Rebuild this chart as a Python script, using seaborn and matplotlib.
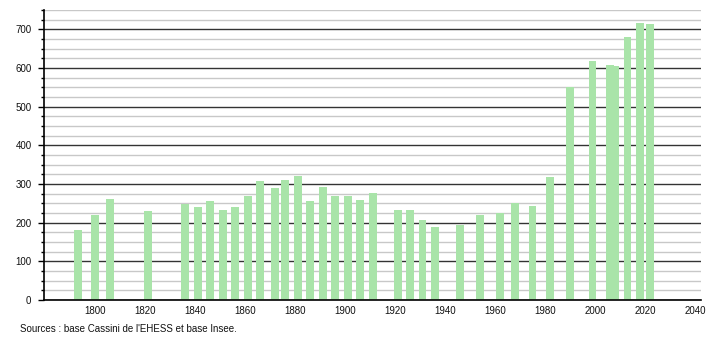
import matplotlib
matplotlib.use("Agg")
import matplotlib.pyplot as plt
import seaborn as sns
import numpy as np
import pandas as pd
from matplotlib.ticker import MultipleLocator

years = [1793, 1800, 1806, 1821, 1836, 1841, 1846, 1851, 1856, 1861, 1866,
         1872, 1876, 1881, 1886, 1891, 1896, 1901, 1906, 1911, 1921, 1926,
         1931, 1936, 1946, 1954, 1962, 1968, 1975, 1982, 1990, 1999, 2006,
         2008, 2013, 2018, 2022]
population = [182, 221, 260, 229, 249, 240, 255, 234, 240, 268, 307,
              289, 310, 320, 255, 291, 268, 268, 258, 278, 234, 232,
              208, 190, 195, 221, 226, 250, 242, 317, 552, 618, 607,
              604, 680, 717, 715]
x_ticks = list(range(1800, 2041, 20))
source_text = "Sources : base Cassini de l'EHESS et base Insee."

df = pd.DataFrame({"year": years, "pop": population})

sns.set_style("white")
plt.rcParams['font.family'] = ['Liberation Sans', 'DejaVu Sans']

fig = plt.figure(figsize=(7.1, 3.4), dpi=100)
ax = fig.add_axes([44 / 710, 1 - 300 / 340, (701 - 44) / 710, 290 / 340])

min_gap = np.min(np.diff(sorted(set(years))))
sns.barplot(data=df, x="year", y="pop", native_scale=True,
            width=3.2 / min_gap, color="#a9e4a9", saturation=1,
            linewidth=0, edgecolor="none", ax=ax, zorder=3)

ax.set_xlim(1779.6, 2042.4)
ax.set_ylim(0, 750)
ax.set_xticks(x_ticks)
ax.set_xticklabels([str(t) for t in x_ticks])
ax.yaxis.set_major_locator(MultipleLocator(100))
ax.yaxis.set_minor_locator(MultipleLocator(25))
ax.set_axisbelow(True)
ax.grid(which="major", axis="y", color="#333333", linewidth=1.0, zorder=0)
ax.grid(which="minor", axis="y", color="#c8c8c8", linewidth=1.0, zorder=0)
ax.grid(which="major", axis="x", visible=False)

ax.tick_params(axis="y", which="major", direction="out", length=4, width=1,
               color="black", labelsize=7, pad=5, left=True)
ax.tick_params(axis="y", which="minor", direction="out", length=2, width=1,
               color="black", left=True)
ax.tick_params(axis="x", which="both", length=0, labelsize=7, pad=4)
for lab in ax.get_xticklabels() + ax.get_yticklabels():
    lab.set_color("#111111")

for s in ["top", "right"]:
    ax.spines[s].set_visible(False)
for s in ["left", "bottom"]:
    ax.spines[s].set_color("black")
    ax.spines[s].set_linewidth(1.2)
    ax.spines[s].set_zorder(5)

ax.set_xlabel("")
ax.set_ylabel("")

fig.text(20 / 710, 1 - 329 / 340, source_text, fontsize=7, va="center",
         ha="left", color="#111111")

fig.savefig("out.png", dpi=100)
